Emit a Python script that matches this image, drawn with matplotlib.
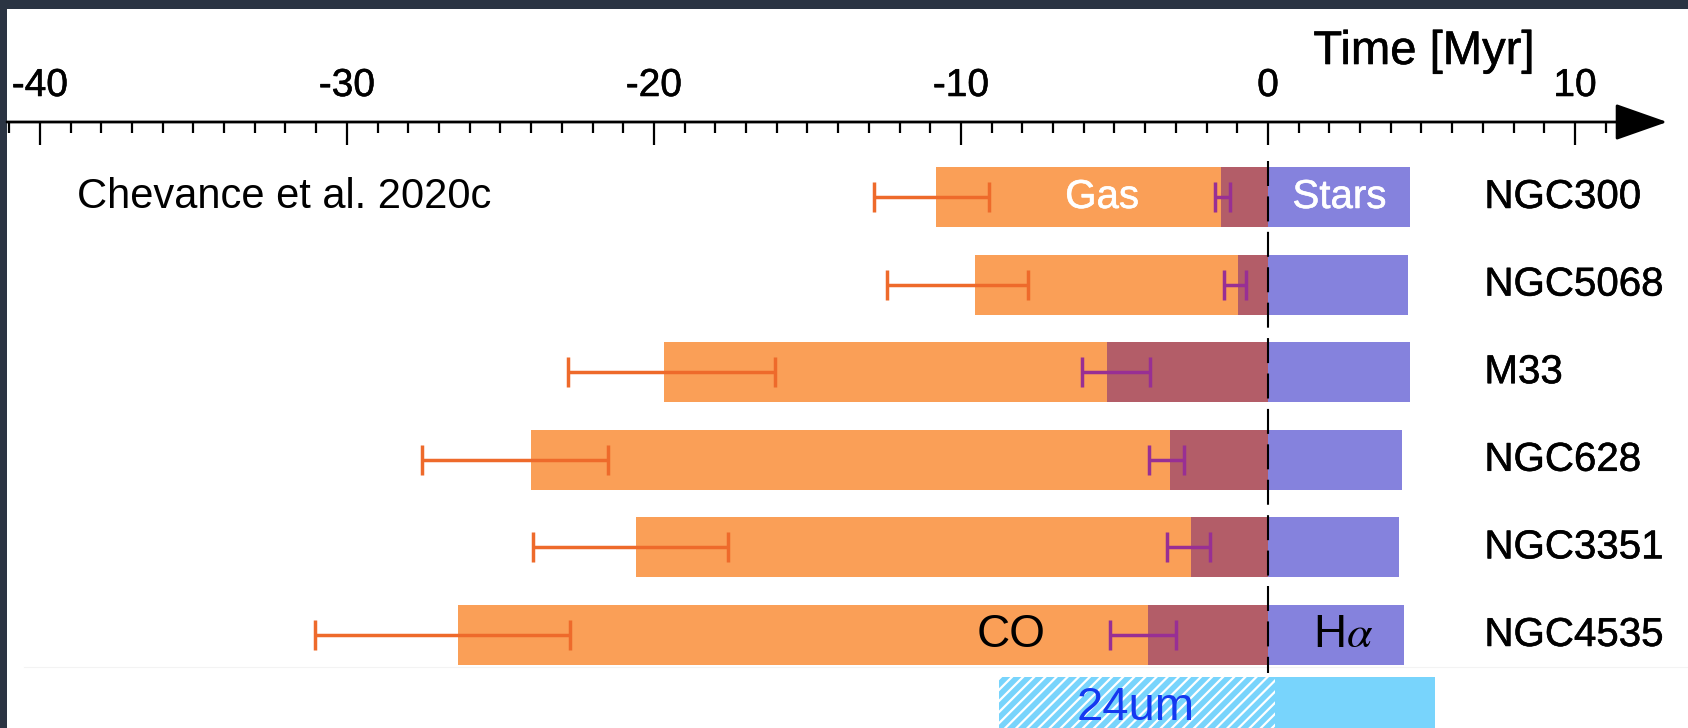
import matplotlib
matplotlib.use('Agg')
import matplotlib.pyplot as plt
import matplotlib.patheffects as pe
import numpy as np

plt.rcParams['font.family'] = ['Liberation Sans', 'DejaVu Sans']
plt.rcParams['mathtext.fontset'] = 'stix'
plt.rcParams['hatch.linewidth'] = 1.6

# timeline values in Myr
galaxies = ['NGC300', 'NGC5068', 'M33', 'NGC628', 'NGC3351', 'NGC4535']
gas_start = [-10.80, -9.54, -19.68, -23.99, -20.57, -26.37]
overlap_start = [-1.54, -0.98, -5.24, -3.19, -2.52, -3.91]
stars_end = [4.63, 4.56, 4.63, 4.35, 4.28, 4.43]
gas_err_lo = [-12.84, -12.42, -22.79, -27.54, -23.94, -31.04]
gas_err_hi = [-9.09, -7.81, -16.06, -21.48, -17.59, -22.74]
ov_err_lo = [-1.71, -1.44, -6.07, -3.89, -3.29, -5.14]
ov_err_hi = [-1.23, -0.70, -3.84, -2.73, -1.89, -2.98]

# 24um band below the galaxies
band_start = -8.76
band_split = 0.23
band_end = 5.44

major_ticks = [-40, -30, -20, -10, 0, 10]

c_gas = '#fa9f57'
c_over = '#b35d68'
c_star = '#8582dd'
c_gas_err = '#ee6a2b'
c_over_err = '#982f94'
c_band = '#78d4fc'

# slightly heavier strokes for the text that came from the original figure
heavy = [pe.withStroke(linewidth=0.4, foreground='black')]
heavy_w = [pe.withStroke(linewidth=0.4, foreground='white')]

fig = plt.figure(figsize=(16.88, 7.28), dpi=100, facecolor='#2b3443')
ax = fig.add_axes([7 / 1688, 0, 1 - 7 / 1688, 1 - 9 / 728], facecolor='white')
ax.set_xlim(-41.07, 13.68)
ax.set_ylim(6.062, -2.146)
for s in ax.spines.values():
    s.set_visible(False)
ax.set_xticks([])
ax.set_yticks([])

rows = np.arange(len(galaxies))
gas_start = np.array(gas_start)
overlap_start = np.array(overlap_start)
stars_end = np.array(stars_end)
h = 0.685

ax.barh(rows, overlap_start - gas_start, left=gas_start, height=h, color=c_gas, lw=0)
ax.barh(rows, -overlap_start, left=overlap_start, height=h, color=c_over, lw=0)
ax.barh(rows, stars_end, left=0, height=h, color=c_star, lw=0)

lo, hi = np.array(gas_err_lo), np.array(gas_err_hi)
ax.errorbar((lo + hi) / 2, rows, xerr=(hi - lo) / 2, fmt='none', ecolor=c_gas_err,
            elinewidth=2.5, capsize=11, capthick=2.5)
lo, hi = np.array(ov_err_lo), np.array(ov_err_hi)
ax.errorbar((lo + hi) / 2, rows, xerr=(hi - lo) / 2, fmt='none', ecolor=c_over_err,
            elinewidth=2.5, capsize=11, capthick=2.5)

# 24um band
band_y = 5.8
ax.barh(band_y, band_split - band_start, left=band_start, height=0.64,
        color=c_band, edgecolor='white', hatch='///', lw=0)
ax.barh(band_y, band_end - band_split, left=band_split, height=0.64, color=c_band, lw=0)
ax.axhline(5.365, color='#f3f3f3', lw=0.8, xmin=0.01)

ax.plot([0, 0], [-0.41, 5.43], color='black', lw=1.5, dashes=(12, 5))

# time axis
y_axis = -0.856
ax.annotate('', xy=(13.0, y_axis), xytext=(-41.07, y_axis),
            arrowprops=dict(arrowstyle='-|>,head_length=1.65,head_width=0.58',
                            mutation_scale=20, lw=2, color='black',
                            shrinkA=0, shrinkB=0))
for t in np.arange(-41, 12):
    ln = 0.264 if t % 10 == 0 else 0.122
    ax.plot([t, t], [y_axis, y_axis + ln], color='black', lw=1.6, solid_capstyle='butt')
for t in major_ticks:
    ax.text(t, -1.267, f'{t}', ha='center', va='center', fontsize=28, path_effects=heavy)
ax.text(5.08, -1.655, 'Time [Myr]', ha='center', va='center', fontsize=34, path_effects=heavy)

for i, g in enumerate(galaxies):
    ax.text(7.05, i, g, ha='left', va='center', fontsize=29, path_effects=heavy)

ax.text(-38.8, 0, 'Chevance et al. 2020c', ha='left', va='center', fontsize=30)
ax.text(-5.4, 0, 'Gas', ha='center', va='center', fontsize=29, color='white',
        path_effects=heavy_w)
ax.text(2.33, 0, 'Stars', ha='center', va='center', fontsize=29, color='white',
        path_effects=heavy_w)
ax.text(-8.37, 5, 'CO', ha='center', va='center', fontsize=33)
ax.text(2.44, 5, r'H$\alpha$', ha='center', va='center', fontsize=33)
ax.text(-4.3, 5.83, '24um', ha='center', va='center', fontsize=34, color='#1439f0')

fig.savefig('out.png', dpi=100, facecolor=fig.get_facecolor())
